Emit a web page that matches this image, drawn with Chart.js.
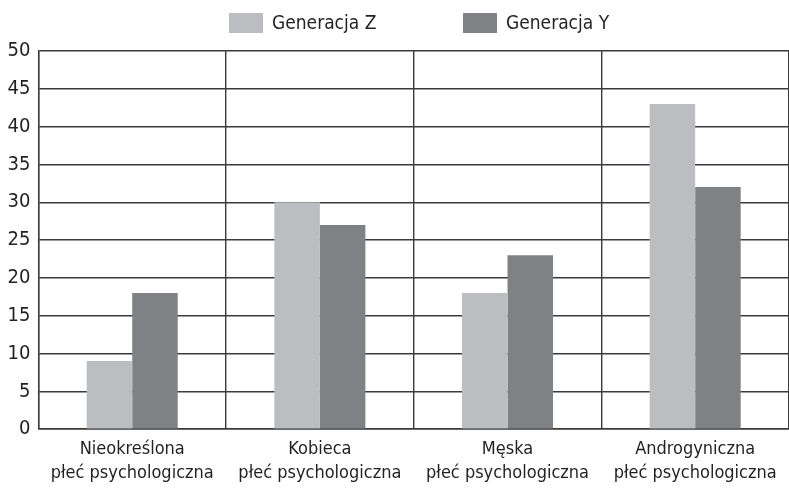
<!DOCTYPE html>
<html>
<head>
<meta charset="utf-8">
<script src="https://cdn.jsdelivr.net/npm/chart.js@4/dist/chart.umd.min.js"></script>
<style>
  html, body { margin: 0; padding: 0; background: #fff; }
  #wrap { width: 789px; height: 488px; position: relative; }
</style>
</head>
<body>
<div id="wrap"><canvas id="c" width="789" height="488"></canvas></div>
<script>
const categories = [
  ["Nieokreślona", "płeć psychologiczna"],
  ["Kobieca", "płeć psychologiczna"],
  ["Męska", "płeć psychologiczna"],
  ["Androgyniczna", "płeć psychologiczna"]
];
const seriesNames = ["Generacja Z", "Generacja Y"];
const generacjaZ = [9, 30, 18, 43];
const generacjaY = [18, 27, 23, 32];
const yTicks = [0, 5, 10, 15, 20, 25, 30, 35, 40, 45, 50];

const FONT = "'DejaVu Sans Condensed', 'Liberation Sans Narrow', sans-serif";
const FS = 18;
const TEXT = '#231f20';
const GRID = '#3a3a3a';
const colZ = '#bcbdc1';
const colY = '#808185';

const legendPlugin = {
  id: 'customLegend',
  afterDraw(chart) {
    const ctx = chart.ctx;
    const xs = [229, 463];
    ctx.save();
    ctx.font = '19px ' + FONT;
    ctx.textBaseline = 'middle';
    ctx.textAlign = 'left';
    chart.data.datasets.forEach((ds, i) => {
      ctx.fillStyle = ds.backgroundColor;
      ctx.fillRect(xs[i], 13, 34, 20);
      ctx.fillStyle = TEXT;
      ctx.fillText(ds.label, xs[i] + 34 + 9, 24);
    });
    ctx.restore();
  }
};

new Chart(document.getElementById('c'), {
  type: 'bar',
  data: {
    labels: categories,
    datasets: [
      { label: seriesNames[0], data: generacjaZ, backgroundColor: colZ, borderWidth: 0,
        categoryPercentage: 0.485, barPercentage: 1 },
      { label: seriesNames[1], data: generacjaY, backgroundColor: colY, borderWidth: 0,
        categoryPercentage: 0.485, barPercentage: 1 }
    ]
  },
  options: {
    responsive: false,
    animation: false,
    devicePixelRatio: 1,
    layout: { padding: { top: 51, left: -0.5, right: 0, bottom: -5 } },
    plugins: {
      legend: { display: false },
      tooltip: { enabled: false }
    },
    scales: {
      x: {
        offset: true,
        afterFit(scale) { scale.paddingLeft = 0; scale.paddingRight = 0; },
        grid: { display: true, offset: true, color: GRID, lineWidth: 1.4, drawTicks: false },
        border: { display: true, color: GRID, width: 1.4 },
        ticks: { color: TEXT, font: { family: FONT, size: FS, lineHeight: 1.33 }, padding: 8, maxRotation: 0, autoSkip: false }
      },
      y: {
        min: 0, max: 50,
        afterBuildTicks(scale) { scale.ticks = yTicks.map(v => ({ value: v })); },
        grid: { color: GRID, lineWidth: 1.4, drawTicks: false },
        border: { display: true, color: GRID, width: 1.4 },
        ticks: { color: TEXT, font: { family: FONT, size: 20 }, padding: 8 }
      }
    }
  },
  plugins: [legendPlugin]
});
</script>
</body>
</html>
